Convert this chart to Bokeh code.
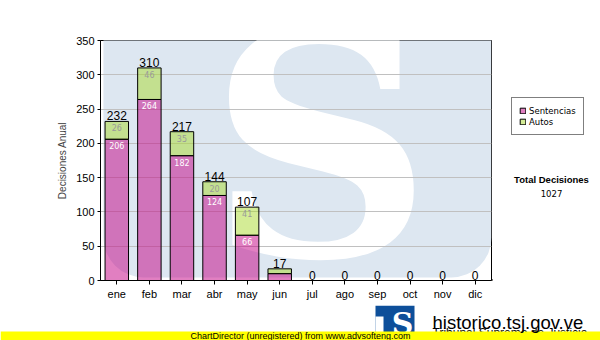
from bokeh.plotting import figure
from bokeh.layouts import row, column
from bokeh.models import (FactorRange, Range1d, ColumnDataSource, Legend,
                          LegendItem, FixedTicker)
from bokeh.core.properties import value
from bokeh.embed import file_html
from bokeh.resources import INLINE

# ---------------- data ----------------
months = ["ene", "feb", "mar", "abr", "may", "jun",
          "jul", "ago", "sep", "oct", "nov", "dic"]
sentencias = [206, 264, 182, 124, 66, 10, 0, 0, 0, 0, 0, 0]
autos = [26, 46, 35, 20, 41, 7, 0, 0, 0, 0, 0, 0]
series_names = ["Sentencias", "Autos"]
y_ticks = [0, 50, 100, 150, 200, 250, 300, 350]
y_title = "Decisiones Anual"
total_title = "Total Decisiones"
site_text = "historico.tsj.gov.ve"
site_sub = "Tribunal Supremo de Justicia"
footer_text = "ChartDirector (unregistered) from www.advsofteng.com"

totals = [s + a for s, a in zip(sentencias, autos)]
grand_total = sum(totals)

# ---------------- styling ----------------
PINK = "#c40084"
GREEN = "#a9d92d"
ALPHA = 0.5
WATER = "#dde7f1"
LOGO_BLUE = "#0d4f9a"
ARIAL = "Liberation Sans"
VERDANA = "DejaVu Sans"

# ---------------- main chart ----------------
# frame: left 100, top 40, right 491, bottom 280 (canvas px)
p = figure(x_range=FactorRange(factors=months, range_padding=0),
           y_range=Range1d(0, 350),
           width=492, height=305, output_backend="svg", toolbar_location=None,
           min_border_left=100, min_border_right=1, min_border_top=40,
           min_border_bottom=25)
p.background_fill_color = "white"
p.border_fill_color = "white"
p.outline_line_color = "black"
p.outline_line_width = 1

# watermark: light-blue box with white "S" (decoration)
p.quad(left=0.09, right=12.0, top=500, bottom=4.5, fill_color=WATER,
       line_color=None, border_radius=40, level="image")
p.text(x=[6.75], y=[195], text=["S"], text_font=value("DejaVu Serif"),
       text_font_style="bold", text_font_size="310px", text_color="white",
       text_align="center", text_baseline="alphabetic", level="image")

# grid / axes
p.xgrid.grid_line_color = None
p.ygrid.grid_line_color = "#c0c0c0"
p.ygrid.ticker = FixedTicker(ticks=y_ticks)
p.yaxis.ticker = FixedTicker(ticks=y_ticks)
for ax in (p.xaxis[0], p.yaxis[0]):
    ax.axis_line_color = "black"
    ax.major_tick_line_color = "black"
    ax.minor_tick_line_color = None
    ax.major_tick_in = 0
    ax.major_label_text_font = ARIAL
    ax.major_label_text_font_size = "11px"
    ax.major_label_text_color = "black"
p.xaxis.major_tick_out = 4
p.yaxis.major_tick_out = 3
p.xaxis.major_label_standoff = 3
p.yaxis.major_label_standoff = 3
p.yaxis.axis_label = y_title
p.yaxis.axis_label_text_font = ARIAL
p.yaxis.axis_label_text_font_size = "10px"
p.yaxis.axis_label_text_font_style = "normal"
p.yaxis.axis_label_standoff = 5

# stacked bars
src = ColumnDataSource(dict(month=months, Sentencias=sentencias, Autos=autos))
bars = p.vbar_stack(series_names, x="month", width=0.72, source=src,
                    fill_color=[PINK, GREEN], fill_alpha=ALPHA,
                    line_color="black", line_width=1)

# total labels
p.text(x="month", y="total", text="label",
       source=ColumnDataSource(dict(month=months, total=totals,
                                    label=[str(t) for t in totals])),
       text_font=value(ARIAL), text_font_size="12px", text_color="black",
       text_align="center", text_baseline="bottom", y_offset=-1)

# inner segment labels (only where segment is tall enough)
MIN_LABEL = 15
s_idx = [i for i, v in enumerate(sentencias) if v >= MIN_LABEL]
a_idx = [i for i, v in enumerate(autos) if v >= MIN_LABEL]
p.text(x=[months[i] for i in s_idx], y=[sentencias[i] for i in s_idx],
       text=[str(sentencias[i]) for i in s_idx], text_font=value(VERDANA),
       text_font_size="8px", text_color="white", text_align="center",
       text_baseline="top", y_offset=3)
p.text(x=[months[i] for i in a_idx], y=[totals[i] for i in a_idx],
       text=[str(autos[i]) for i in a_idx], text_font=value(VERDANA),
       text_font_size="8px", text_color="#9a9a9a", text_align="center",
       text_baseline="top", y_offset=3)

# ---------------- side panel (legend + total) ----------------
side = figure(width=108, height=305, x_range=Range1d(0, 108),
              y_range=Range1d(0, 305), output_backend="svg",
              toolbar_location=None, x_axis_type=None, y_axis_type=None,
              min_border=0)
side.outline_line_color = None
side.grid.grid_line_color = None
# swatch renderers for the legend (kept outside the visible range)
leg_src = ColumnDataSource(dict(x=[-50], top=[1]))
r_s = side.vbar(x="x", top="top", width=1, source=leg_src, fill_color=PINK,
                fill_alpha=ALPHA, line_color="black")
r_a = side.vbar(x="x", top="top", width=1, source=leg_src, fill_color=GREEN,
                fill_alpha=ALPHA, line_color="black")
legend = Legend(items=[LegendItem(label=series_names[0], renderers=[r_s]),
                       LegendItem(label=series_names[1], renderers=[r_a])],
                location=(19, 145), orientation="vertical",
                border_line_color="black", border_line_width=1,
                background_fill_color="white", background_fill_alpha=1,
                label_text_font=VERDANA, label_text_font_size="8.5px",
                label_text_color="black", glyph_width=7, glyph_height=7,
                label_height=11, label_standoff=3, spacing=0, padding=7,
                margin=0)
side.add_layout(legend)
side.text(x=[59], y=[128], text=[total_title], text_font=value(ARIAL),
          text_font_style="bold", text_font_size="9.5px", text_align="center",
          text_baseline="middle", text_color="black")
side.text(x=[59], y=[110], text=[str(grand_total)], text_font=value(VERDANA),
          text_font_size="8.5px", text_align="center", text_baseline="middle",
          text_color="black")

# ---------------- bottom strip (logo + footer) ----------------
bottom = figure(width=600, height=35, x_range=Range1d(0, 600),
                y_range=Range1d(0, 35), output_backend="svg",
                toolbar_location=None, x_axis_type=None, y_axis_type=None,
                min_border=0)
bottom.outline_line_color = None
bottom.grid.grid_line_color = None
bottom.text(x=[432], y=[15], text=[site_sub], text_font=value(ARIAL),
            text_font_size="12px", text_baseline="top", text_color="black")
# logo
bottom.quad(left=[375], right=[414], bottom=[0], top=[35],
            fill_color=LOGO_BLUE, line_color=None)
bottom.quad(left=[375], right=[383], bottom=[0], top=[24],
            fill_color="white", line_color=None)
bottom.text(x=[402], y=[17], text=["S"], text_font=value("DejaVu Serif"),
            text_font_style="bold", text_font_size="30px",
            text_align="center", text_baseline="middle", text_color="white")
# footer band over everything
bottom.quad(left=[0], right=[600], bottom=[0], top=[9], fill_color="#ffff00",
            line_color=None)
bottom.text(x=[190], y=[4.5], text=[footer_text], text_font=value(ARIAL),
            text_font_size="9px", text_baseline="middle", text_color="black")
bottom.text(x=[432], y=[18], text=[site_text], text_font=value(ARIAL),
            text_font_size="18.5px", text_baseline="alphabetic",
            text_color="black")

layout = column(row(p, side, spacing=0), bottom, spacing=0)
open("out.html", "w").write(file_html(layout, INLINE))
